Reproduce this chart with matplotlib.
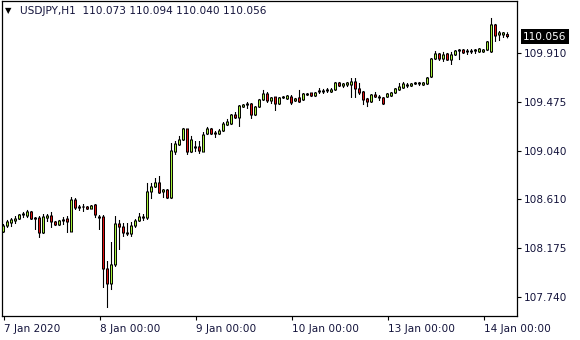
"""
USDJPY H1 candlestick chart, MT4 style
"""
import numpy as np
import matplotlib
matplotlib.use('Agg')
import matplotlib.pyplot as plt

# Hourly candles from 7 Jan 2020 00:00 to 14 Jan 2020 06:00 (weekend skipped)
opens = [108.318, 108.371, 108.398, 108.416, 108.433, 108.469, 108.460, 108.496, 108.433, 108.442,
         108.309, 108.442, 108.460, 108.407, 108.380, 108.416, 108.433, 108.318, 108.602, 108.531,
         108.540, 108.540, 108.522, 108.558, 108.451, 108.451, 107.989, 107.856, 108.025, 108.389,
         108.362, 108.309, 108.300, 108.371, 108.416, 108.451, 108.442, 108.674, 108.718, 108.754,
         108.674, 108.691, 108.620, 109.029, 109.092, 109.136, 109.234, 109.029, 109.065, 109.074,
         109.029, 109.189, 109.234, 109.189, 109.189, 109.216, 109.269, 109.278, 109.358, 109.332,
         109.429, 109.447, 109.456, 109.358, 109.429, 109.492, 109.545, 109.483, 109.518, 109.456,
         109.510, 109.501, 109.518, 109.483, 109.510, 109.492, 109.536, 109.554, 109.527, 109.563,
         109.563, 109.572, 109.563, 109.581, 109.643, 109.616, 109.625, 109.625, 109.652, 109.590,
         109.563, 109.501, 109.474, 109.536, 109.510, 109.510, 109.518, 109.527, 109.554, 109.581,
         109.598, 109.616, 109.616, 109.634, 109.634, 109.625, 109.634, 109.696, 109.856, 109.901,
         109.856, 109.901, 109.847, 109.892, 109.927, 109.936, 109.919, 109.919, 109.927, 109.919,
         109.919, 109.936, 109.919, 110.159, 110.070, 110.070, 110.073]
highs = [108.389, 108.425, 108.442, 108.460, 108.478, 108.496, 108.514, 108.505, 108.451, 108.460,
         108.478, 108.478, 108.496, 108.416, 108.425, 108.451, 108.460, 108.629, 108.620, 108.558,
         108.567, 108.549, 108.558, 108.567, 108.469, 108.469, 108.060, 108.229, 108.460, 108.425,
         108.398, 108.398, 108.407, 108.433, 108.487, 108.478, 108.754, 108.754, 108.798, 108.816,
         108.700, 108.700, 109.109, 109.127, 109.172, 109.243, 109.234, 109.172, 109.127, 109.127,
         109.207, 109.252, 109.243, 109.216, 109.234, 109.296, 109.323, 109.367, 109.385, 109.447,
         109.456, 109.474, 109.465, 109.438, 109.501, 109.581, 109.563, 109.518, 109.518, 109.518,
         109.527, 109.536, 109.536, 109.510, 109.581, 109.554, 109.554, 109.554, 109.563, 109.598,
         109.590, 109.598, 109.598, 109.652, 109.652, 109.643, 109.652, 109.687, 109.687, 109.643,
         109.572, 109.510, 109.545, 109.563, 109.536, 109.518, 109.554, 109.563, 109.598, 109.643,
         109.652, 109.643, 109.643, 109.652, 109.652, 109.652, 109.696, 109.865, 109.927, 109.910,
         109.919, 109.910, 109.919, 109.936, 109.945, 109.945, 109.945, 109.945, 109.945, 109.954,
         109.945, 110.016, 110.221, 110.168, 110.105, 110.096, 110.094]
lows = [108.309, 108.354, 108.362, 108.389, 108.425, 108.442, 108.442, 108.425, 108.336, 108.265,
        108.300, 108.407, 108.354, 108.371, 108.371, 108.380, 108.309, 108.318, 108.514, 108.505,
        108.496, 108.514, 108.522, 108.442, 108.336, 107.820, 107.642, 107.802, 108.007, 108.158,
        108.274, 108.282, 108.274, 108.354, 108.407, 108.416, 108.425, 108.611, 108.709, 108.656,
        108.620, 108.611, 108.611, 109.003, 109.083, 109.127, 109.003, 109.020, 109.029, 109.012,
        109.029, 109.180, 109.180, 109.154, 109.180, 109.207, 109.260, 109.269, 109.323, 109.252,
        109.421, 109.412, 109.323, 109.349, 109.421, 109.483, 109.465, 109.456, 109.394, 109.447,
        109.501, 109.492, 109.447, 109.474, 109.465, 109.483, 109.527, 109.518, 109.518, 109.545,
        109.545, 109.554, 109.554, 109.572, 109.607, 109.598, 109.607, 109.510, 109.510, 109.536,
        109.447, 109.429, 109.465, 109.510, 109.483, 109.447, 109.510, 109.518, 109.545, 109.572,
        109.590, 109.598, 109.607, 109.625, 109.616, 109.616, 109.625, 109.687, 109.847, 109.839,
        109.830, 109.839, 109.803, 109.883, 109.847, 109.901, 109.892, 109.901, 109.901, 109.910,
        109.910, 109.927, 109.910, 110.008, 110.016, 110.043, 110.040]
closes = [108.371, 108.407, 108.425, 108.433, 108.469, 108.478, 108.496, 108.433, 108.442, 108.309,
          108.451, 108.460, 108.407, 108.380, 108.416, 108.425, 108.407, 108.602, 108.531, 108.540,
          108.540, 108.522, 108.549, 108.469, 108.442, 107.989, 107.856, 108.025, 108.389, 108.362,
          108.309, 108.300, 108.371, 108.416, 108.451, 108.442, 108.674, 108.718, 108.754, 108.665,
          108.691, 108.620, 109.038, 109.100, 109.136, 109.234, 109.029, 109.136, 109.074, 109.038,
          109.180, 109.234, 109.189, 109.198, 109.216, 109.278, 109.296, 109.358, 109.332, 109.438,
          109.447, 109.456, 109.358, 109.429, 109.492, 109.545, 109.483, 109.510, 109.456, 109.510,
          109.518, 109.527, 109.465, 109.501, 109.474, 109.545, 109.545, 109.527, 109.554, 109.572,
          109.572, 109.581, 109.581, 109.643, 109.616, 109.634, 109.643, 109.652, 109.590, 109.554,
          109.492, 109.474, 109.536, 109.518, 109.518, 109.456, 109.545, 109.554, 109.590, 109.607,
          109.634, 109.625, 109.634, 109.643, 109.643, 109.643, 109.687, 109.856, 109.901, 109.856,
          109.892, 109.847, 109.892, 109.927, 109.936, 109.910, 109.927, 109.927, 109.936, 109.945,
          109.936, 110.008, 110.159, 110.061, 110.088, 110.088, 110.056]

# Time axis labels and the bar they sit on
time_labels = ['7 Jan 2020', '8 Jan 00:00', '9 Jan 00:00', '10 Jan 00:00', '13 Jan 00:00', '14 Jan 00:00']
time_label_bars = [0, 24, 48, 72, 96, 120]

# Price scale labels
price_ticks = [109.910, 109.475, 109.040, 108.610, 108.175, 107.740]

symbol = 'USDJPY,H1'

# Colors / font
BULL = '#a6f23a'
BEAR = '#e01010'
FG = '#14143c'
FS = 7.6

YMIN, YMAX = 107.571, 110.372
AX_H_PX = 315

fig = plt.figure(figsize=(5.8, 3.4), dpi=100)
fig.patch.set_facecolor('white')
ax = fig.add_axes([2 / 580, 24 / 340, 515 / 580, AX_H_PX / 340])

o = np.array(opens)
h = np.array(highs)
l = np.array(lows)
c = np.array(closes)
x = np.arange(len(o))
up = c >= o
py = (YMAX - YMIN) / AX_H_PX   # one pixel in price units

lo_b = np.minimum(o, c)
hi_b = np.maximum(o, c)

# Wicks
ax.vlines(x, l, h, color='black', linewidth=0.8, snap=False, zorder=1)

# Body outline: solid black box, 3 px wide
ax.bar(x, hi_b - lo_b + py, bottom=lo_b - py / 2, width=0.75, color='black',
       linewidth=0, snap=False, zorder=2)

# Body fill: 1 px column inside the outline, green for up bars, red for down bars
inner = (hi_b - lo_b) > py
ax.bar(x[inner & up], (hi_b - lo_b - py)[inner & up], bottom=(lo_b + py / 2)[inner & up],
       width=0.27, color=BULL, linewidth=0, snap=False, zorder=3)
ax.bar(x[inner & ~up], (hi_b - lo_b - py)[inner & ~up], bottom=(lo_b + py / 2)[inner & ~up],
       width=0.27, color=BEAR, linewidth=0, snap=False, zorder=3)

ax.set_xlim(-0.375, 128.375)
ax.set_ylim(YMIN, YMAX)

for s in ax.spines.values():
    s.set_linewidth(0.9)
    s.set_color('black')

# Price scale on the right
ax.yaxis.tick_right()
ax.set_yticks(price_ticks)
ax.set_yticklabels(['{:.3f}'.format(p) for p in price_ticks])
ax.tick_params(axis='y', direction='out', length=3, width=0.8, pad=2,
               labelsize=FS, labelcolor=FG, color='black')

# Time scale
ax.set_xticks(time_label_bars)
ax.set_xticklabels(time_labels, ha='left')
ax.tick_params(axis='x', direction='out', length=3, width=0.8, pad=3,
               labelsize=FS, labelcolor=FG, color='black')

# Current price marker
ax.annotate('{:.3f}'.format(closes[-1]), xy=(1, closes[-1]),
            xycoords=('axes fraction', 'data'), xytext=(6, 0),
            textcoords='offset pixels', ha='left', va='center',
            fontsize=FS, color='white',
            bbox=dict(facecolor='black', edgecolor='none', pad=1.6),
            annotation_clip=False)

# Header line
fig.text(5 / 580, 1 - 11 / 340, '\u25bc', fontsize=6, color='black', va='center', ha='left')
header = '{}  {:.3f} {:.3f} {:.3f} {:.3f}'.format(symbol, opens[-1], highs[-1], lows[-1], closes[-1])
fig.text(20 / 580, 1 - 11 / 340, header, fontsize=FS, color=FG, va='center', ha='left')

fig.savefig('out.png', dpi=100)
